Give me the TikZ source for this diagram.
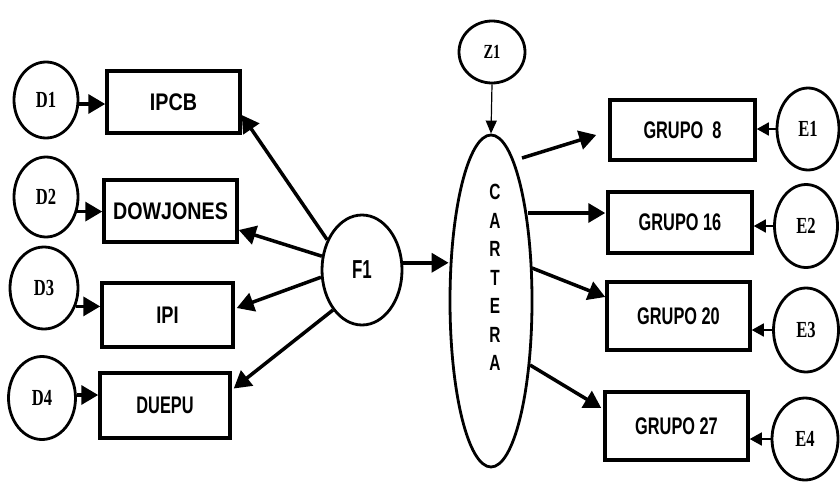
\documentclass[tikz,border=0pt]{standalone}
\usepackage{fontspec}
\usepackage{graphicx}
\setmainfont{Liberation Serif}
\setsansfont{Liberation Sans}
\usetikzlibrary{shapes.geometric,arrows.meta,calc}

% horizontally condensed text
\newcommand{\cnd}[2][0.72]{\scalebox{#1}[1]{#2}}

\tikzset{
  var/.style={ellipse, draw, line width=2.8pt, inner sep=0pt,
    font=\bfseries\fontsize{23}{23}\selectfont},
  idx/.style={rectangle, draw, line width=3.5pt, inner sep=0pt,
    font=\sffamily\bfseries\fontsize{24}{24}\selectfont},
  big arrow/.style={line width=3.5pt, -{Triangle[length=17pt,width=19pt]}},
  small arrow/.style={line width=1.6pt, -{Triangle[length=12pt,width=13pt]}},
  tiny arrow/.style={line width=1.2pt, -{Triangle[length=13pt,width=11pt]}},
}

\begin{document}
\begin{tikzpicture}[x=1pt,y=-1pt]
\useasboundingbox (0,0) rectangle (840,482);

% source circles
\node[var, minimum width=64pt, minimum height=76pt] (D1) at (46,100) {\cnd{D1}};
\node[var, minimum width=64pt, minimum height=80pt] (D2) at (46,197) {\cnd{D2}};
\node[var, minimum width=68pt, minimum height=82pt] (D3) at (44,288) {\cnd{D3}};
\node[var, minimum width=67pt, minimum height=83pt] (D4) at (42,398) {\cnd{D4}};

% indicator boxes
\node[idx, minimum width=133pt, minimum height=62pt] (IPCB) at (173.5,102) {\cnd[0.82]{IPCB}};
\node[idx, minimum width=133pt, minimum height=62pt] (DOW) at (170.5,211) {\cnd[0.82]{DOWJONES}};
\node[idx, minimum width=131pt, minimum height=64pt] (IPI) at (167.5,315) {\cnd[0.76]{IPI}};
\node[idx, minimum width=130pt, minimum height=65pt] (DUEPU) at (165,405.5) {\cnd[0.68]{DUEPU}};

% factor and portfolio
\node[ellipse, draw, line width=2.8pt, minimum width=80pt, minimum height=110pt,
  inner sep=0pt, font=\sffamily\bfseries\fontsize{26}{26}\selectfont] (F1) at (362,270) {\cnd[0.65]{F1}};
\node[ellipse, draw, line width=2.8pt, minimum width=82pt, minimum height=332pt,
  inner sep=0pt] (CARTERA) at (491,301) {};
\node[align=center, inner sep=0pt,
  font=\sffamily\bfseries\fontsize{22}{28.5}\selectfont] (CARTXT) at (495,277.5)
  {\cnd[0.7]{C}\\\cnd[0.7]{A}\\\cnd[0.7]{R}\\\cnd[0.7]{T}\\\cnd[0.7]{E}\\\cnd[0.7]{R}\\\cnd[0.7]{A}};
\node[var, minimum width=66pt, minimum height=62pt,
  font=\bfseries\fontsize{20}{20}\selectfont] (Z1) at (492,52) {\cnd{Z1}};

% group boxes
\node[idx, minimum width=145pt, minimum height=60pt] (G8) at (682.5,130) {\cnd[0.68]{GRUPO\ \ 8}};
\node[idx, minimum width=144pt, minimum height=61pt] (G16) at (680,222.5) {\cnd[0.68]{GRUPO 16}};
\node[idx, minimum width=143pt, minimum height=68pt] (G20) at (678.5,316) {\cnd[0.68]{GRUPO 20}};
\node[idx, minimum width=143pt, minimum height=68pt] (G27) at (676.5,426) {\cnd[0.68]{GRUPO 27}};

% error circles
\node[var, minimum width=62pt, minimum height=82pt] (E1) at (808,129) {\cnd{E1}};
\node[var, minimum width=63pt, minimum height=83pt] (E2) at (806,226) {\cnd{E2}};
\node[var, minimum width=65pt, minimum height=84pt] (E3) at (806,330) {\cnd{E3}};
\node[var, minimum width=66pt, minimum height=82pt] (E4) at (805,439) {\cnd{E4}};

% sources into indicators
\draw[big arrow] ([yshift=-4pt]D1.east) -- ([yshift=-4pt]D1.east -| IPCB.west);
\draw[big arrow] (D2.-25) -- (D2.-25 -| DOW.west);
\draw[big arrow] (D3.-30) -- (D3.-30 -| IPI.west);
\draw[big arrow] ([yshift=3pt]D4.east) -- ([yshift=3pt]D4.east -| DUEPU.west);

% factor loadings
\draw[big arrow] (F1.139) -- ([yshift=-13pt]IPCB.east);
\draw[big arrow] (F1.161) -- ([yshift=-19pt]DOW.east);
\draw[big arrow] (F1.190) -- ([yshift=7pt,xshift=2pt]IPI.east);
\draw[big arrow] (F1.234) -- ([yshift=17pt,xshift=2pt]DUEPU.east);

% factor into portfolio
\draw[big arrow] (F1.10) -- (F1.10 -| CARTERA.west);
\draw[tiny arrow] (Z1.south) -- (CARTERA.north);

% portfolio into groups
\draw[big arrow] ($(CARTERA.center)+(31,-143)$) -- ([xshift=-12pt,yshift=-5pt]G8.west);
\draw[big arrow] ($(CARTERA.center)+(37,-88)$) -- ([xshift=-1pt,yshift=9.5pt]G16.west);
\draw[big arrow] ($(CARTERA.center)+(41,-33)$) -- ([yshift=19pt]G20.west);
\draw[big arrow] ($(CARTERA.center)+(39,64)$) -- ([xshift=-2pt,yshift=18pt]G27.west);

% errors into groups
\draw[small arrow] (E1.west) -- (E1.west -| G8.east);
\draw[small arrow] (E2.west) -- (E2.west -| G16.east);
\draw[small arrow] (E3.west) -- (E3.west -| G20.east);
\draw[small arrow] (E4.west) -- (E4.west -| G27.east);
\end{tikzpicture}
\end{document}
